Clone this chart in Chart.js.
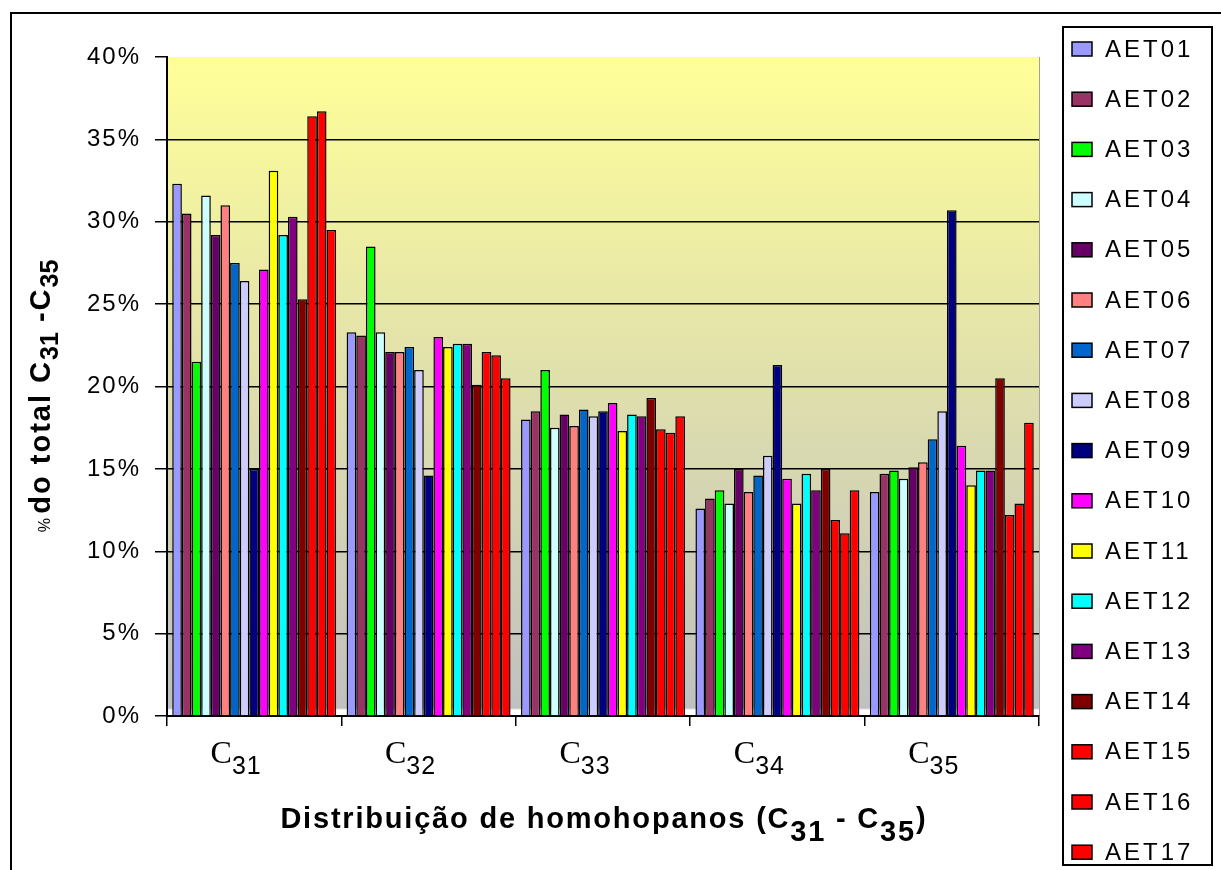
<!DOCTYPE html>
<html>
<head>
<meta charset="utf-8">
<script src="https://cdn.jsdelivr.net/npm/chart.js@4.4.1/dist/chart.umd.min.js"></script>
<style>
  html, body { margin: 0; padding: 0; background: #fff; }
  #wrap { width: 1221px; height: 870px; }
</style>
</head>
<body>
<div id="wrap"><canvas id="chart" width="1221" height="870"></canvas></div>
<script>
// homohopane numbers (subscripts of C)
const categories = ['31', '32', '33', '34', '35'];
const samples = ['AET01', 'AET02', 'AET03', 'AET04', 'AET05', 'AET06', 'AET07', 'AET08', 'AET09',
  'AET10', 'AET11', 'AET12', 'AET13', 'AET14', 'AET15', 'AET16', 'AET17'];
const colors = ['#9999ff', '#993366', '#00ff00', '#ccffff', '#660066', '#ff8080', '#0066cc', '#ccccff',
  '#000080', '#ff00ff', '#ffff00', '#00ffff', '#800080', '#800000', '#ff0000', '#ff0000', '#ff0000'];

// % of total C31-C35, one value per sample (AET01..AET17)
const c31 = [32.3, 30.5, 21.5, 31.6, 29.2, 31.0, 27.5, 26.4, 15.0, 27.1, 33.1, 29.2, 30.3, 25.3, 36.4, 36.7, 29.5];
const c32 = [23.3, 23.1, 28.5, 23.3, 22.1, 22.1, 22.4, 21.0, 14.6, 23.0, 22.4, 22.6, 22.6, 20.1, 22.1, 21.9, 20.5];
const c33 = [18.0, 18.5, 21.0, 17.5, 18.3, 17.6, 18.6, 18.2, 18.5, 19.0, 17.3, 18.3, 18.2, 19.3, 17.4, 17.2, 18.2];
const c34 = [12.6, 13.2, 13.7, 12.9, 15.0, 13.6, 14.6, 15.8, 21.3, 14.4, 12.9, 14.7, 13.7, 15.0, 11.9, 11.1, 13.7];
const c35 = [13.6, 14.7, 14.9, 14.4, 15.1, 15.4, 16.8, 18.5, 30.7, 16.4, 14.0, 14.9, 14.9, 20.5, 12.2, 12.9, 17.8];
const groups = [c31, c32, c33, c34, c35];

const yMin = 0, yMax = 40, yStep = 5;

const SANS = '"Liberation Sans", Arial, sans-serif';
const SERIF = '"Liberation Serif", "Times New Roman", serif';

// draws a sequence of text runs (with optional baseline shift) as one line
function drawRuns(ctx, runs, x, y, align) {
  let total = 0;
  runs.forEach(r => {
    ctx.font = r.font;
    ctx.letterSpacing = r.ls || '0px';
    r.w = ctx.measureText(r.text).width;
    total += r.w;
  });
  let cx = align === 'center' ? x - total / 2 : x;
  runs.forEach(r => {
    ctx.font = r.font;
    ctx.letterSpacing = r.ls || '0px';
    ctx.fillText(r.text, cx, y + (r.dy || 0));
    cx += r.w;
  });
}

const plotBackground = {
  id: 'plotBackground',
  beforeDraw(chart) {
    const { ctx, chartArea: a } = chart;
    ctx.save();
    ctx.fillStyle = '#fff';
    ctx.fillRect(0, 0, chart.width, chart.height);
    ctx.strokeStyle = '#000';
    ctx.lineWidth = 2;
    ctx.strokeRect(11, 13, chart.width + 20, chart.height + 20);
    const g = ctx.createLinearGradient(0, a.top, 0, a.bottom);
    g.addColorStop(0, '#ffff99');
    g.addColorStop(0.988, '#c0c0c0');
    g.addColorStop(0.991, '#ffffff');
    g.addColorStop(1, '#ffffff');
    ctx.fillStyle = g;
    ctx.fillRect(a.left, a.top, a.right - a.left, a.bottom - a.top);
    ctx.strokeStyle = '#a0a0a0';
    ctx.lineWidth = 1;
    ctx.beginPath();
    ctx.moveTo(a.right + 0.5, a.top);
    ctx.lineTo(a.right + 0.5, a.bottom);
    ctx.stroke();
    ctx.restore();
    // spaced-out tick labels
    ctx.letterSpacing = '2px';
  },
  beforeDatasetsDraw(chart) {
    chart.ctx.letterSpacing = '0px';
  }
};

const chartText = {
  id: 'chartText',
  afterDraw(chart) {
    const { ctx, chartArea: a } = chart;
    const x = chart.scales.x;
    ctx.save();
    ctx.fillStyle = '#000';
    ctx.textBaseline = 'alphabetic';
    ctx.textAlign = 'left';

    // category labels C31..C35
    categories.forEach((n, i) => {
      const px = x.getPixelForValue(i) - 18;
      drawRuns(ctx, [
        { text: 'C', font: '32px ' + SERIF },
        { text: n, font: '25px ' + SANS, dy: 11, ls: '1px' }
      ], px, 763, 'center');
    });

    // x axis title
    const B = 'bold 29px ' + SANS;
    drawRuns(ctx, [
      { text: 'Distribuição de homohopanos (C', font: B, ls: '1.8px' },
      { text: '31', font: B, dy: 13, ls: '1.8px' },
      { text: ' - C', font: B, ls: '1.8px' },
      { text: '35', font: B, dy: 13, ls: '1.8px' },
      { text: ')', font: B }
    ], (a.left + a.right) / 2, 828, 'center');

    // y axis title
    ctx.save();
    ctx.translate(50, 396);
    ctx.rotate(-Math.PI / 2);
    drawRuns(ctx, [
      { text: '% ', font: '16px ' + SANS },
      { text: 'do total C', font: B, ls: '2px' },
      { text: '31', font: 'bold 25px ' + SANS, dy: 8 },
      { text: ' -C', font: B, ls: '2px' },
      { text: '35', font: 'bold 25px ' + SANS, dy: 8 }
    ], 0, 0, 'center');
    ctx.restore();

    // legend
    const lx = 1063, ly = 27, lw = 149, lh = 838;
    ctx.fillStyle = '#fff';
    ctx.fillRect(lx, ly, lw, lh);
    ctx.strokeStyle = '#000';
    ctx.lineWidth = 2;
    ctx.strokeRect(lx, ly, lw, lh);
    chart.data.datasets.forEach((ds, i) => {
      const cy = 49 + i * 50.2;
      ctx.fillStyle = ds.backgroundColor;
      ctx.fillRect(1072, cy - 7, 20, 14);
      ctx.strokeStyle = '#000';
      ctx.lineWidth = 1.5;
      ctx.strokeRect(1072, cy - 7, 20, 14);
      ctx.fillStyle = '#000';
      ctx.font = '24px ' + SANS;
      ctx.letterSpacing = '3px';
      ctx.textBaseline = 'middle';
      ctx.fillText(ds.label, 1105, cy + 1);
    });
    ctx.restore();
  }
};

new Chart(document.getElementById('chart'), {
  type: 'bar',
  data: {
    labels: categories.map(n => 'C' + n),
    datasets: samples.map((name, i) => ({
      label: name,
      data: groups.map(g => g[i]),
      backgroundColor: colors[i],
      borderColor: '#000',
      borderWidth: 1.5
    }))
  },
  options: {
    responsive: false,
    animation: false,
    devicePixelRatio: 1,
    layout: { padding: { left: 10, top: 57, right: 182, bottom: 0 } },
    datasets: { bar: { barPercentage: 1, categoryPercentage: 0.94 } },
    plugins: {
      legend: { display: false },
      tooltip: { enabled: false }
    },
    scales: {
      x: {
        afterFit: s => { s.height = 154; },
        grid: { offset: true, drawOnChartArea: false, drawTicks: true, tickLength: 10, tickColor: '#000', lineWidth: 1.5 },
        border: { display: true, color: '#000', width: 2 },
        ticks: { display: false }
      },
      y: {
        min: yMin,
        max: yMax,
        afterFit: s => { s.width = 157; },
        grid: {
          color: c => (c.tick && c.tick.value === yMax ? 'rgba(0,0,0,0)' : '#000'),
          tickColor: '#000',
          lineWidth: 1.5,
          tickLength: 12
        },
        border: { display: true, color: '#000', width: 2 },
        ticks: {
          stepSize: yStep,
          padding: 14,
          color: '#000',
          font: { family: SANS, size: 24 },
          callback: v => v + '%'
        }
      }
    }
  },
  plugins: [plotBackground, chartText]
});
</script>
</body>
</html>
